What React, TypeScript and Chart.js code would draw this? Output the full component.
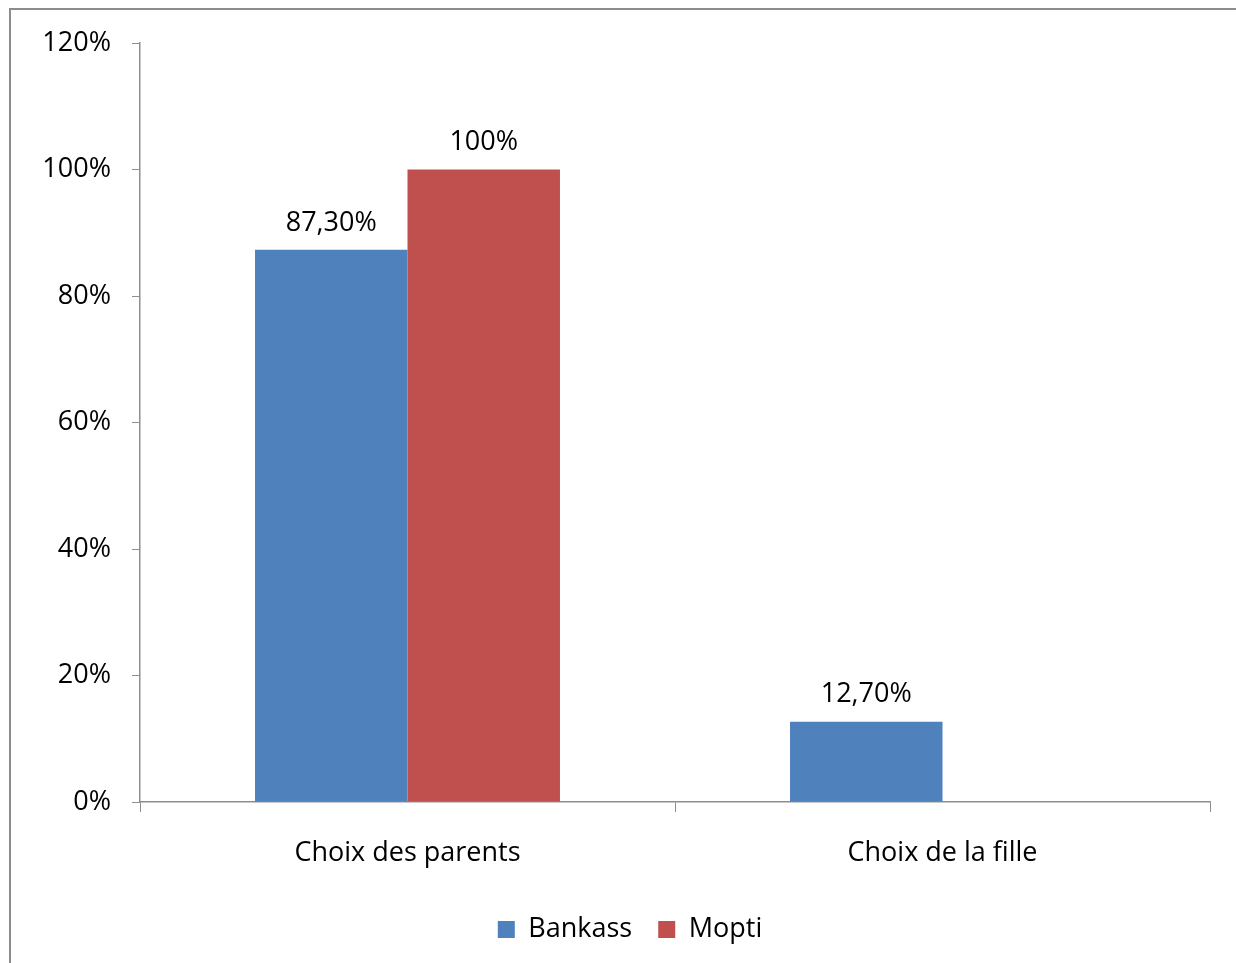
import React, { useEffect, useRef } from "react";
import { Chart, registerables } from "chart.js";

Chart.register(...registerables);

const categories = ["Choix des parents", "Choix de la fille"];
const bankass = [87.3, 12.7];
const mopti: (number | null)[] = [100, null];
const yTicks = [0, 20, 40, 60, 80, 100, 120];

const FONT = "'Open Sans', 'Noto Sans', sans-serif";

function fmt(v: number): string {
  if (Number.isInteger(v)) return v + "%";
  return v.toFixed(2).replace(".", ",") + "%";
}

const valueLabels = {
  id: "valueLabels",
  afterDatasetsDraw(chart: any) {
    const ctx = chart.ctx;
    ctx.save();
    ctx.font = `27px ${FONT}`;
    ctx.fillStyle = "#000";
    ctx.textAlign = "center";
    ctx.textBaseline = "middle";
    chart.data.datasets.forEach((ds: any, di: number) => {
      const meta = chart.getDatasetMeta(di);
      meta.data.forEach((bar: any, i: number) => {
        const v = ds.data[i];
        if (v === null || v === undefined) return;
        ctx.fillText(fmt(v), bar.x, bar.y - 27);
      });
    });
    ctx.restore();
  },
};

const shiftLegend = {
  id: "shiftLegend",
  afterLayout(chart: any) {
    if (chart.legend) chart.legend.left = 50;
  },
};

export default function App() {
  const ref = useRef<HTMLCanvasElement>(null);
  useEffect(() => {
    if (!ref.current) return;
    const chart = new Chart(ref.current, {
      type: "bar",
      data: {
        labels: categories,
        datasets: [
          { label: "Bankass", data: bankass, backgroundColor: "#4F81BD", barPercentage: 1, categoryPercentage: 0.57 },
          { label: "Mopti", data: mopti, backgroundColor: "#C0504D", barPercentage: 1, categoryPercentage: 0.57 },
        ],
      },
      plugins: [valueLabels, shiftLegend],
      options: {
        responsive: false,
        animation: false,
        layout: { padding: { left: 0, top: 43, right: 26, bottom: 10 } },
        plugins: {
          tooltip: { enabled: false },
          legend: {
            position: "bottom",
            labels: {
              font: { family: FONT, size: 27 },
              color: "#000",
              boxWidth: 17,
              boxHeight: 17,
              padding: 26,
            },
          },
        },
        scales: {
          x: {
            grid: {
              drawOnChartArea: false,
              drawTicks: true,
              tickLength: 10,
              color: "#8e8e8e",
              offset: true,
            },
            border: { color: "#8e8e8e", width: 1.5 },
            ticks: { font: { family: FONT, size: 27 }, color: "#000", padding: 25 },
            afterFit: (s: any) => {
              s.height = 88;
            },
          },
          y: {
            min: 0,
            max: 120,
            afterBuildTicks: (s: any) => {
              s.ticks = yTicks.map((v) => ({ value: v }));
            },
            grid: { drawOnChartArea: false, tickLength: 8, color: "#8e8e8e" },
            border: { color: "#8e8e8e", width: 1.5 },
            ticks: {
              font: { family: FONT, size: 27 },
              color: "#000",
              padding: 21,
              callback: (v: any) => v + "%",
            },
            afterFit: (s: any) => {
              s.width = 140;
            },
          },
        },
      },
    });
    return () => chart.destroy();
  }, []);
  return (
    <div>
      <div
        style={{
          position: "fixed",
          left: 9,
          top: 8,
          width: 1300,
          height: 1000,
          border: "2px solid #8c8c8c",
          boxSizing: "border-box",
        }}
      />
      <canvas
        ref={ref}
        width={1236}
        height={963}
        style={{ position: "fixed", left: 0, top: 0, width: 1236, height: 963 }}
      />
    </div>
  );
}
